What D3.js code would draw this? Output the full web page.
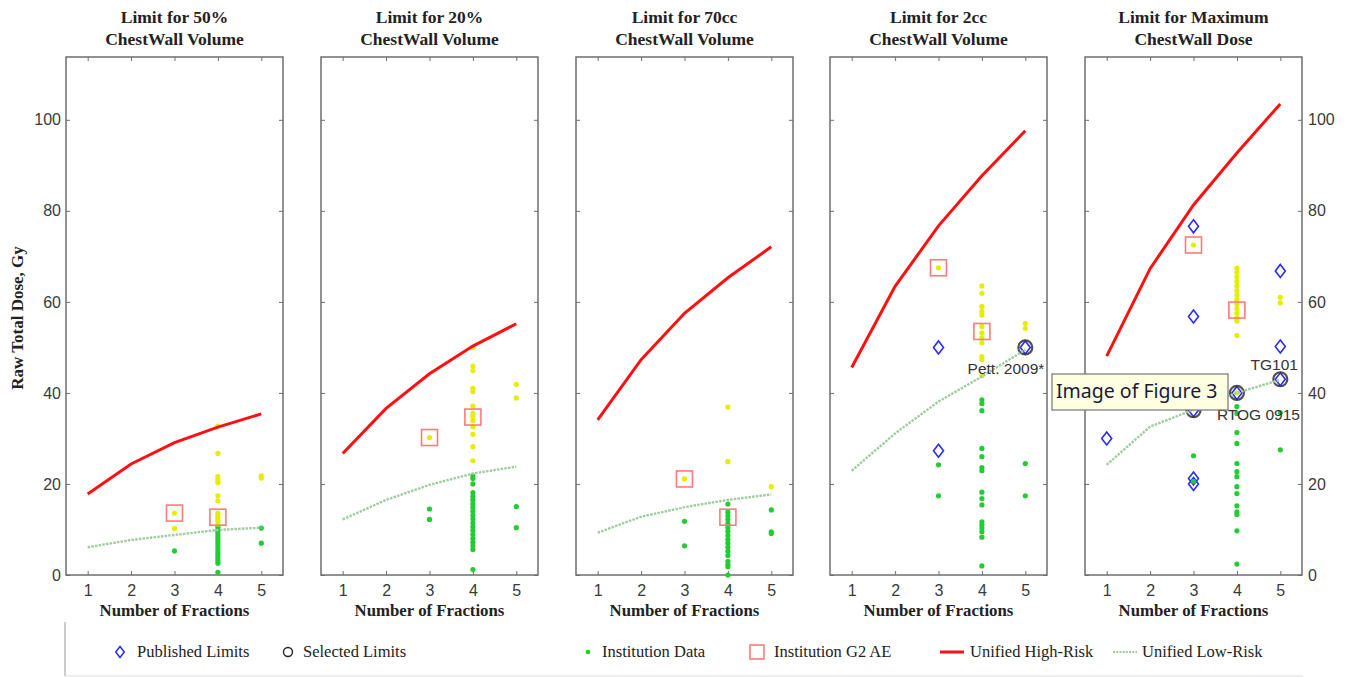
<!DOCTYPE html>
<html>
<head>
<meta charset="utf-8">
<script src="https://cdn.jsdelivr.net/npm/d3@7"></script>
<style>
  body { margin: 0; background: #fff; }
  svg { display: block; }
</style>
</head>
<body>
<script>
const W = 1349, H = 677;

// data
const fractions = [1, 2, 3, 4, 5];
const doseTicks = [0, 20, 40, 60, 80, 100];
const panelTitles = [
  ["Limit for 50%", "ChestWall Volume"],
  ["Limit for 20%", "ChestWall Volume"],
  ["Limit for 70cc", "ChestWall Volume"],
  ["Limit for 2cc", "ChestWall Volume"],
  ["Limit for Maximum", "ChestWall Dose"]
];
const highRisk = [
  [17.8, 24.4, 29.1, 32.5, 35.4],
  [26.7, 36.6, 44.2, 50.3, 55.2],
  [34.1, 47.3, 57.5, 65.3, 72.1],
  [45.6, 63.4, 76.7, 87.7, 97.6],
  [48.1, 67.3, 81.3, 92.7, 103.5]
];
const lowRisk = [
  [6.1, 7.7, 8.8, 9.9, 10.4],
  [12.2, 16.5, 19.8, 22.3, 23.8],
  [9.3, 12.8, 14.9, 16.5, 17.7],
  [22.9, 31.1, 38.1, 43.6, 49.5],
  [24.2, 32.6, 36.3, 40.0, 42.9]
];
// institution data above the low-risk curve (yellow)
const instAbove = [
  [[3, 13.6], [3, 10.2], [4, 32.7], [4, 26.7], [4, 21.6], [4, 20.9], [4, 20.3], [4, 17.4], [4, 16.3],
   [4, 13.6], [4, 13.0], [4, 12.4], [4, 11.8], [4, 11.2], [5, 21.8], [5, 21.3]],
  [[3, 30.2], [4, 50.0], [4, 45.9], [4, 44.9], [4, 41.0], [4, 40.3], [4, 37.1], [4, 35.5], [4, 34.8], [4, 33.9],
   [4, 32.6], [4, 30.9], [4, 28.2], [4, 25.1], [5, 41.9], [5, 38.9]],
  [[3, 21.1], [4, 36.9], [4, 24.9], [5, 19.4]],
  [[3, 67.5], [4, 63.5], [4, 61.9], [4, 59.0], [4, 57.9], [4, 57.1], [4, 54.6], [4, 53.2], [4, 52.1], [4, 51.0],
   [4, 48.0], [4, 47.3], [4, 43.8], [5, 55.3], [5, 54.2]],
  [[3, 72.5], [4, 67.4], [4, 66.5], [4, 65.5], [4, 64.5], [4, 63.5], [4, 62.5], [4, 61.5], [4, 60.5], [4, 59.5],
   [4, 58.5], [4, 57.5], [4, 56.5], [4, 55.8], [4, 52.6], [4, 40.0], [5, 61.0], [5, 59.8]]
];
// institution data below the low-risk curve (green)
const instBelow = [
  [[3, 5.3], [4, 10.5], [4, 9.8], [4, 9.2], [4, 8.6], [4, 8.0], [4, 7.4], [4, 6.8], [4, 6.2], [4, 5.6],
   [4, 5.0], [4, 4.4], [4, 3.8], [4, 3.2], [4, 2.6], [4, 0.6], [5, 10.3], [5, 7.0]],
  [[3, 14.5], [3, 12.2], [4, 21.8], [4, 21.2], [4, 20.0], [4, 18.1], [4, 17.3], [4, 16.5], [4, 15.6], [4, 14.8],
   [4, 14.0], [4, 13.1], [4, 12.3], [4, 11.4], [4, 10.6], [4, 9.8], [4, 8.9], [4, 8.0], [4, 7.2], [4, 6.4],
   [4, 5.6], [4, 1.2], [5, 15.0], [5, 10.4]],
  [[3, 11.8], [3, 6.4], [4, 15.6], [4, 13.8], [4, 13.0], [4, 12.2], [4, 11.3], [4, 10.4], [4, 9.6], [4, 8.7],
   [4, 7.8], [4, 7.0], [4, 6.1], [4, 5.2], [4, 4.3], [4, 3.0], [4, 2.3], [4, 1.8], [4, 0.0],
   [5, 14.3], [5, 9.5], [5, 9.1]],
  [[3, 24.2], [3, 17.4], [4, 38.5], [4, 37.7], [4, 36.1], [4, 27.8], [4, 26.0], [4, 23.6], [4, 22.9], [4, 18.2],
   [4, 16.8], [4, 15.4], [4, 11.7], [4, 11.0], [4, 10.3], [4, 9.5], [4, 8.3], [4, 2.0], [5, 24.5], [5, 17.4]],
  [[3, 26.2], [3, 20.6], [4, 37.0], [4, 35.5], [4, 31.3], [4, 28.9], [4, 24.5], [4, 22.7], [4, 21.6], [4, 19.4],
   [4, 17.9], [4, 15.2], [4, 13.9], [4, 13.3], [4, 9.7], [4, 2.4], [5, 35.7], [5, 27.5]]
];
const g2ae = [
  [[3, 13.6], [4, 12.7]],
  [[3, 30.2], [4, 34.7]],
  [[3, 21.1], [4, 12.7]],
  [[3, 67.5], [4, 53.5]],
  [[3, 72.5], [4, 58.2]]
];
const published = [
  [], [], [],
  [[3, 50.0], [3, 27.3], [5, 50.0]],
  [[1, 30.0], [3, 76.6], [3, 56.8], [3, 36.2], [3, 21.2], [3, 20.0], [4, 40.0], [5, 66.8], [5, 50.2], [5, 43.0]]
];
const selected = [
  [], [], [],
  [[5, 50.0]],
  [[3, 36.2], [4, 40.0], [5, 43.0]]
];
const selectedNames = [
  [], [], [],
  [[5, 50.0, "Pett. 2009*"]],
  [[5, 43.0, "TG101"], [4, 40.0, "RTOG 0915"]]
];
const legendLabels = ["Published Limits", "Selected Limits", "Institution Data",
  "Institution G2 AE", "Unified High-Risk", "Unified Low-Risk"];

// layout
const panelLeft = [66, 321, 576, 830, 1085];
const panelW = 217, panelTop = 57, panelH = 518;
const labelOffset = { "Pett. 2009*": [19, 22, "end"], "TG101": [-6, -13, "middle"], "RTOG 0915": [-20, 23, "start"] };
const legendX = [120, 288, 588, 757, 952, 1125];
const legendTextX = [137, 303, 602, 774, 970, 1142];

const C = {
  frame: "#6e6e6e", yellow: "#e4ee00", green: "#22cc33", red: "#ff1010",
  sq: "#ff7a7a", blue: "#2a2aff", low: "#9fcc9f"
};
const serif = "'Liberation Serif', 'Times New Roman', serif";
const sans = "'Liberation Sans', Arial, sans-serif";

const svg = d3.select("body").append("svg").attr("width", W).attr("height", H);

const x = d3.scaleLinear().domain([0.5, 5.5]).range([0, panelW]);
const y = d3.scaleLinear().domain([0, 113.8]).range([panelH, 0]);

const diamond = "M0,-6.5L5,0L0,6.5L-5,0Z";

panelTitles.forEach((title, p) => {
  const g = svg.append("g").attr("transform", `translate(${panelLeft[p]},${panelTop})`);

  // titles
  title.forEach((t, i) => {
    g.append("text").attr("x", panelW / 2).attr("y", i ? -12 : -34).attr("text-anchor", "middle")
      .attr("font-family", serif).attr("font-weight", "bold").attr("font-size", 17.5).attr("fill", "#222")
      .text(t);
  });

  // axes with inward ticks
  const bottom = g.append("g").attr("transform", `translate(0,${panelH})`)
    .call(d3.axisBottom(x).tickValues(fractions).tickSize(-4).tickPadding(10).tickFormat(d3.format("d")));
  g.append("g").call(d3.axisTop(x).tickValues(fractions).tickSize(-4).tickFormat(""));
  const left = g.append("g").call(d3.axisLeft(y).tickValues(doseTicks).tickSize(-4).tickPadding(5)
    .tickFormat(p === 0 ? d3.format("d") : ""));
  const right = g.append("g").attr("transform", `translate(${panelW},0)`)
    .call(d3.axisRight(y).tickValues(doseTicks).tickSize(-4).tickPadding(6)
      .tickFormat(p === 4 ? d3.format("d") : ""));
  [bottom, left, right].forEach(a => {
    a.selectAll("text").attr("font-family", sans).attr("font-size", 16).attr("fill", "#3a3a3a");
  });
  g.selectAll(".domain").remove();
  g.selectAll(".tick line").attr("stroke", C.frame);

  g.append("rect").attr("width", panelW).attr("height", panelH)
    .attr("fill", "none").attr("stroke", C.frame).attr("stroke-width", 1.5);

  g.append("text").attr("x", panelW / 2).attr("y", panelH + 41).attr("text-anchor", "middle")
    .attr("font-family", serif).attr("font-weight", "bold").attr("font-size", 16.8).attr("fill", "#222")
    .text("Number of Fractions");

  // published limits
  g.selectAll(".pub").data(published[p]).join("path")
    .attr("d", diamond).attr("transform", d => `translate(${x(d[0])},${y(d[1])})`)
    .attr("fill", "none").attr("stroke", C.blue).attr("stroke-width", 1.6);

  // selected limits
  g.selectAll(".sel").data(selected[p]).join("circle")
    .attr("cx", d => x(d[0])).attr("cy", d => y(d[1])).attr("r", 7)
    .attr("fill", "none").attr("stroke", "#333").attr("stroke-width", 2.2).attr("opacity", 0.85);

  // institution data
  g.selectAll(".below").data(instBelow[p]).join("circle")
    .attr("cx", d => x(d[0])).attr("cy", d => y(d[1])).attr("r", 2.6).attr("fill", C.green);
  g.selectAll(".above").data(instAbove[p]).join("circle")
    .attr("cx", d => x(d[0])).attr("cy", d => y(d[1])).attr("r", 2.6).attr("fill", C.yellow);

  // G2 adverse events
  g.selectAll(".g2").data(g2ae[p]).join("rect")
    .attr("x", d => x(d[0]) - 8).attr("y", d => y(d[1]) - 8).attr("width", 16).attr("height", 16)
    .attr("fill", "none").attr("stroke", C.sq).attr("stroke-width", 1.6);

  // unified curves
  const line = d3.line().x((d, i) => x(fractions[i])).y(d => y(d));
  g.append("path").attr("d", line(lowRisk[p])).attr("fill", "none")
    .attr("stroke", C.low).attr("stroke-width", 2.4).attr("stroke-dasharray", "2.5,1.2");
  g.append("path").attr("d", line(highRisk[p])).attr("fill", "none")
    .attr("stroke", C.red).attr("stroke-width", 3);

  // names of selected limits
  g.selectAll(".name").data(selectedNames[p]).join("text")
    .attr("x", d => x(d[0]) + labelOffset[d[2]][0])
    .attr("y", d => y(d[1]) + labelOffset[d[2]][1])
    .attr("text-anchor", d => labelOffset[d[2]][2]).attr("dominant-baseline", "middle")
    .attr("font-family", sans).attr("font-size", 15.5).attr("fill", "#333")
    .text(d => d[2]);
});

// y axis title
svg.append("text").attr("transform", `translate(23,${panelTop + 261}) rotate(-90)`)
  .attr("text-anchor", "middle").attr("font-family", serif).attr("font-weight", "bold")
  .attr("font-size", 17).attr("fill", "#222").text("Raw Total Dose, Gy");

// legend
const lg = svg.append("g");
lg.append("line").attr("x1", 65).attr("x2", 65).attr("y1", 622).attr("y2", 676).attr("stroke", "#999");
lg.append("line").attr("x1", 65).attr("x2", 1303).attr("y1", 676).attr("y2", 676).attr("stroke", "#ddd");
const ly = 652;
lg.append("path").attr("d", diamond).attr("transform", `translate(${legendX[0]},${ly}) scale(0.85)`)
  .attr("fill", "none").attr("stroke", C.blue).attr("stroke-width", 1.8);
lg.append("circle").attr("cx", legendX[1]).attr("cy", ly).attr("r", 4.5)
  .attr("fill", "none").attr("stroke", "#222").attr("stroke-width", 1.4);
lg.append("circle").attr("cx", legendX[2]).attr("cy", ly).attr("r", 2.3).attr("fill", "#11dd11");
lg.append("rect").attr("x", legendX[3] - 7).attr("y", ly - 7).attr("width", 14).attr("height", 14)
  .attr("fill", "none").attr("stroke", C.sq).attr("stroke-width", 1.6);
lg.append("line").attr("x1", legendX[4] - 12).attr("x2", legendX[4] + 12).attr("y1", ly).attr("y2", ly)
  .attr("stroke", C.red).attr("stroke-width", 3);
lg.append("line").attr("x1", legendX[5] - 12).attr("x2", legendX[5] + 12).attr("y1", ly).attr("y2", ly)
  .attr("stroke", C.low).attr("stroke-width", 2).attr("stroke-dasharray", "2,1.2");
lg.selectAll(".lt").data(legendLabels).join("text")
  .attr("x", (d, i) => legendTextX[i]).attr("y", ly + 1).attr("dominant-baseline", "middle")
  .attr("font-family", serif).attr("font-size", 16.5).attr("fill", "#222").text(d => d);

// tooltip box captured in the figure
const tip = svg.append("g").attr("transform", "translate(1052,374)");
tip.append("rect").attr("width", 176).attr("height", 36).attr("fill", "#ffffe1")
  .attr("stroke", "#767676").attr("stroke-width", 1.2);
tip.append("text").attr("x", 4).attr("y", 19).attr("dominant-baseline", "middle")
  .attr("font-family", "'Noto Sans', 'Open Sans', sans-serif").attr("font-size", 19.5).attr("fill", "#1a1a3a")
  .text("Image of Figure 3");
</script>
</body>
</html>
